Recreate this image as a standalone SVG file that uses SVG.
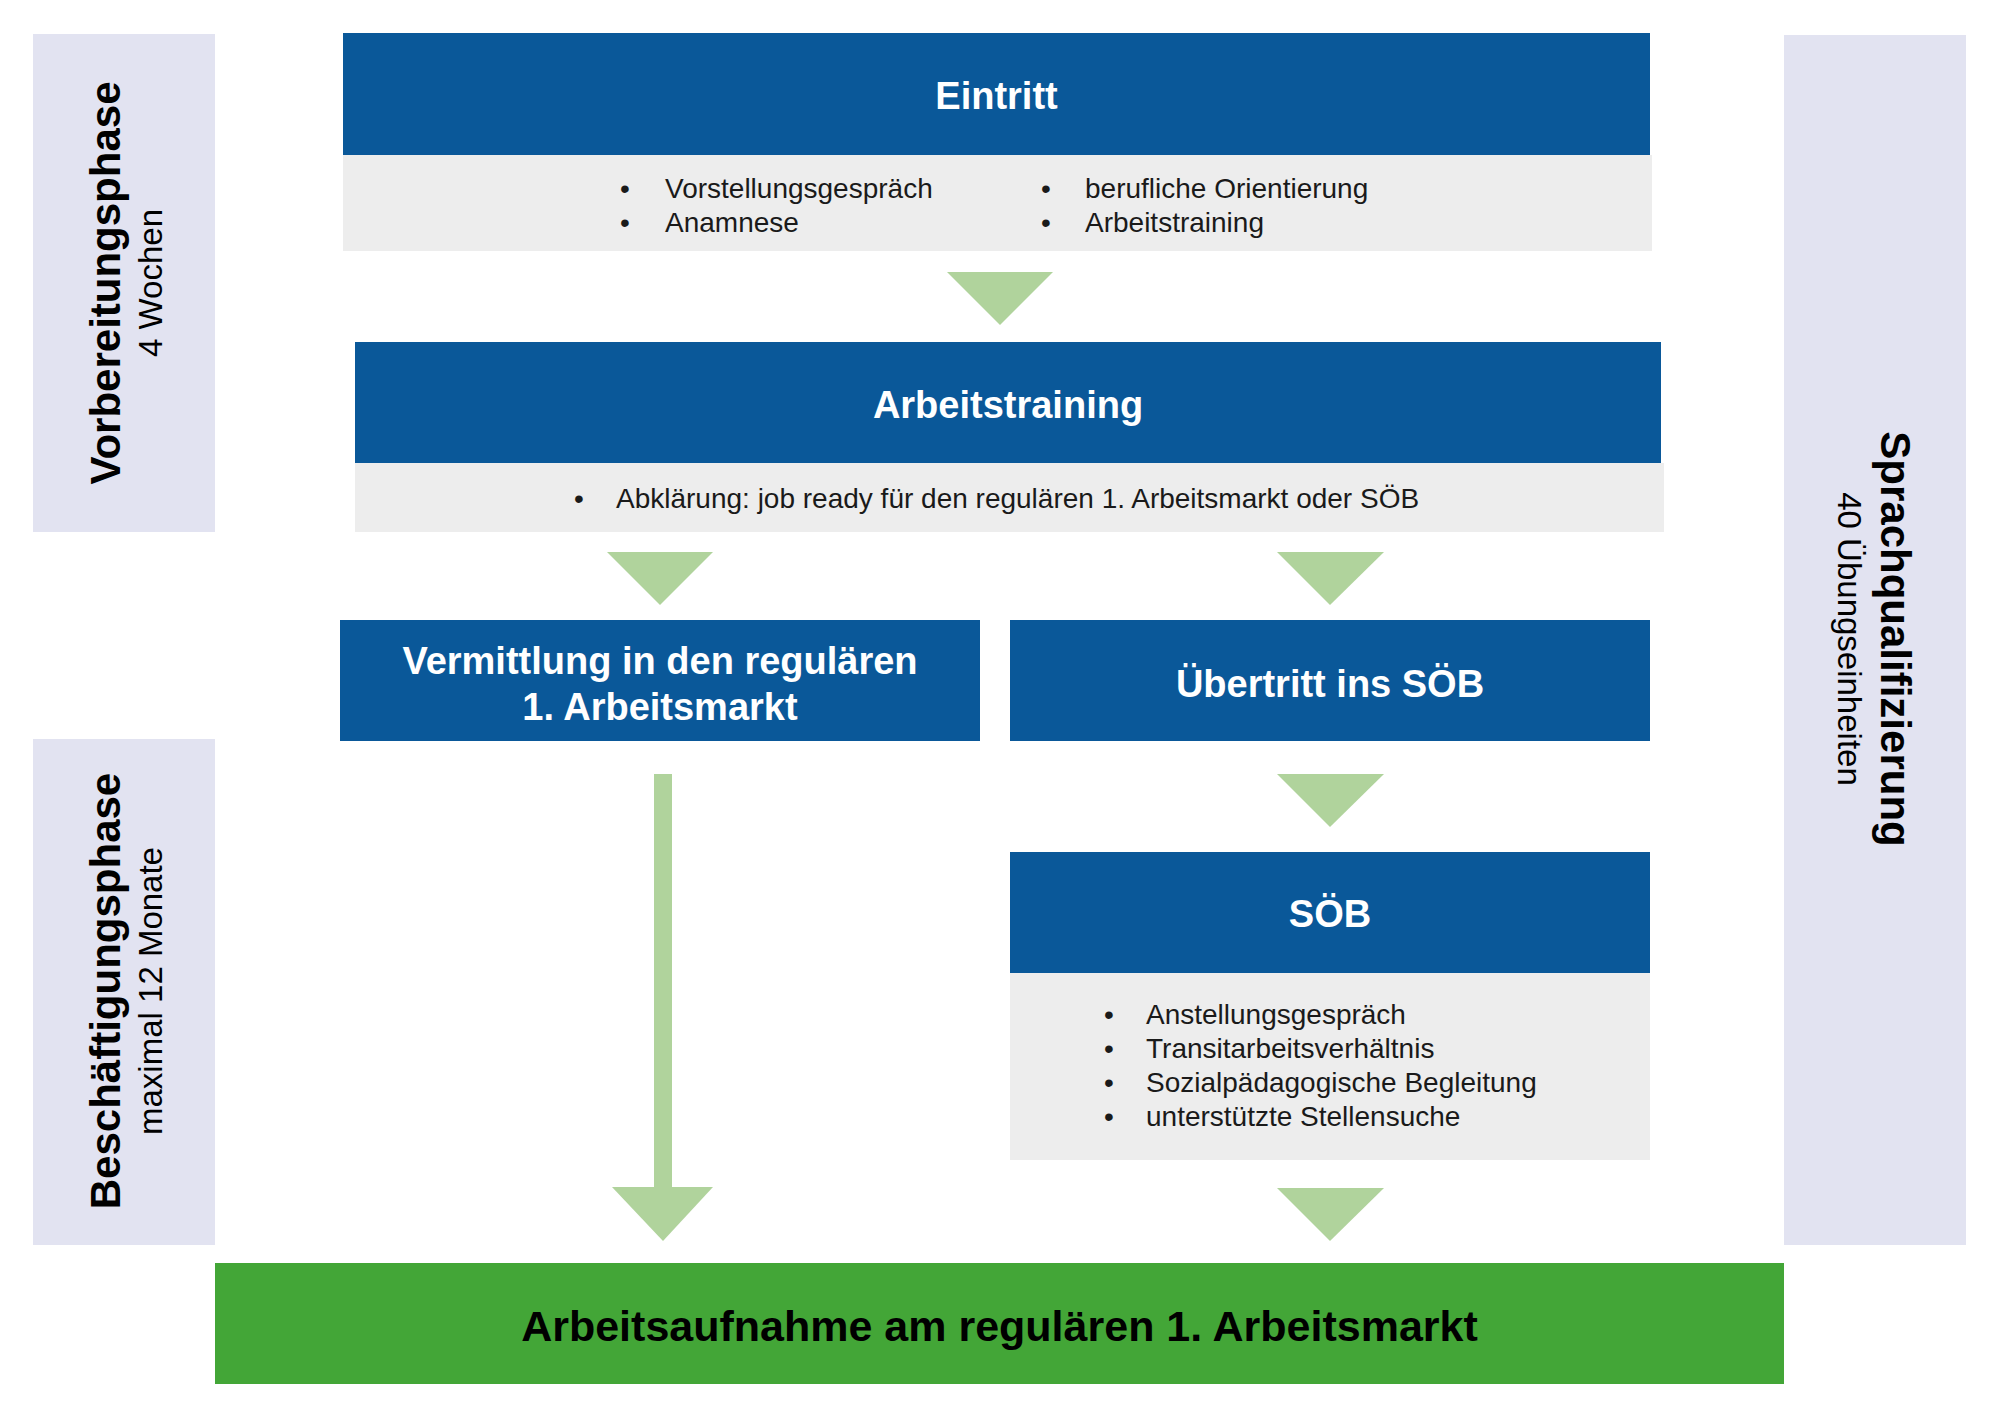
<svg xmlns="http://www.w3.org/2000/svg" width="2000" height="1414" viewBox="0 0 2000 1414">
<style>
text{font-family:"Liberation Sans",Arial,sans-serif}
.panel{fill:#E2E3F1}
.hdr{fill:#0A5899}
.body{fill:#EDEDED}
.arrow{fill:#B0D39C}
.ht{font-size:38px;font-weight:bold;fill:#FFFFFF;text-anchor:middle}
.bt{font-size:28px;fill:#1A1A1A}
.bul{font-size:28px;fill:#1A1A1A;text-anchor:middle}
.pt{font-size:42px;font-weight:bold;fill:#000;text-anchor:middle}
.ps{font-size:33px;fill:#000;text-anchor:middle}
</style>
<rect x="0" y="0" width="2000" height="1414" fill="#FFFFFF"/>

<g id="phase-vorbereitung">
<rect class="panel" x="33" y="34" width="182" height="498"/>
<text class="pt" transform="translate(120,283) rotate(-90)">Vorbereitungsphase</text>
<text class="ps" transform="translate(162,283) rotate(-90)">4 Wochen</text>
</g>

<g id="phase-beschaeftigung">
<rect class="panel" x="33" y="739" width="182" height="506"/>
<text class="pt" transform="translate(120,991) rotate(-90)">Beschäftigungsphase</text>
<text class="ps" transform="translate(162,991) rotate(-90)">maximal 12 Monate</text>
</g>

<g id="sprachqualifizierung">
<rect class="panel" x="1784" y="35" width="182" height="1210"/>
<text class="pt" transform="translate(1881,639) rotate(90)">Sprachqualifizierung</text>
<text class="ps" transform="translate(1838,639) rotate(90)">40 Übungseinheiten</text>
</g>

<g id="eintritt">
<rect class="body" x="343" y="155" width="1309" height="96"/>
<rect class="hdr" x="343" y="33" width="1307" height="122"/>
<text class="ht" x="996.5" y="108.5">Eintritt</text>
<text class="bul" x="625" y="198">•</text>
<text class="bt" x="665" y="198">Vorstellungsgespräch</text>
<text class="bul" x="625" y="232">•</text>
<text class="bt" x="665" y="232">Anamnese</text>
<text class="bul" x="1046" y="198">•</text>
<text class="bt" x="1085" y="198">berufliche Orientierung</text>
<text class="bul" x="1046" y="232">•</text>
<text class="bt" x="1085" y="232">Arbeitstraining</text>
</g>

<g id="arbeitstraining">
<rect class="body" x="355" y="463" width="1309" height="69"/>
<rect class="hdr" x="355" y="342" width="1306" height="121"/>
<text class="ht" x="1008" y="417.5">Arbeitstraining</text>
<text class="bul" x="579" y="508">•</text>
<text class="bt" x="616" y="508">Abklärung: job ready für den regulären 1. Arbeitsmarkt oder SÖB</text>
</g>

<g id="vermittlung">
<rect class="hdr" x="340" y="620" width="640" height="121"/>
<text class="ht" x="660" y="673.5">Vermittlung in den regulären</text>
<text class="ht" x="660" y="719.5">1. Arbeitsmarkt</text>
</g>

<g id="uebertritt">
<rect class="hdr" x="1010" y="620" width="640" height="121"/>
<text class="ht" x="1330" y="697">Übertritt ins SÖB</text>
</g>

<g id="soeb">
<rect class="body" x="1010" y="973" width="640" height="187"/>
<rect class="hdr" x="1010" y="852" width="640" height="121"/>
<text class="ht" x="1330" y="927">SÖB</text>
<text class="bul" x="1109" y="1024">•</text>
<text class="bt" x="1146" y="1024">Anstellungsgespräch</text>
<text class="bul" x="1109" y="1058">•</text>
<text class="bt" x="1146" y="1058">Transitarbeitsverhältnis</text>
<text class="bul" x="1109" y="1092">•</text>
<text class="bt" x="1146" y="1092">Sozialpädagogische Begleitung</text>
<text class="bul" x="1109" y="1126">•</text>
<text class="bt" x="1146" y="1126">unterstützte Stellensuche</text>
</g>

<g id="arbeitsaufnahme">
<rect x="215" y="1263" width="1569" height="121" fill="#43A637"/>
<text x="999.5" y="1341" font-size="43" font-weight="bold" fill="#000" text-anchor="middle">Arbeitsaufnahme am regulären 1. Arbeitsmarkt</text>
</g>

<g id="connectors">
<polygon class="arrow" points="947,272 1053,272 1000,325"/>
<polygon class="arrow" points="607,552 713,552 660,605"/>
<polygon class="arrow" points="1277,552 1384,552 1330,605"/>
<polygon class="arrow" points="1277,774 1384,774 1330,827"/>
<rect class="arrow" x="654" y="774" width="18" height="414"/>
<polygon class="arrow" points="612,1187 713,1187 663,1241"/>
<polygon class="arrow" points="1277,1188 1384,1188 1330,1241"/>
</g>
</svg>
